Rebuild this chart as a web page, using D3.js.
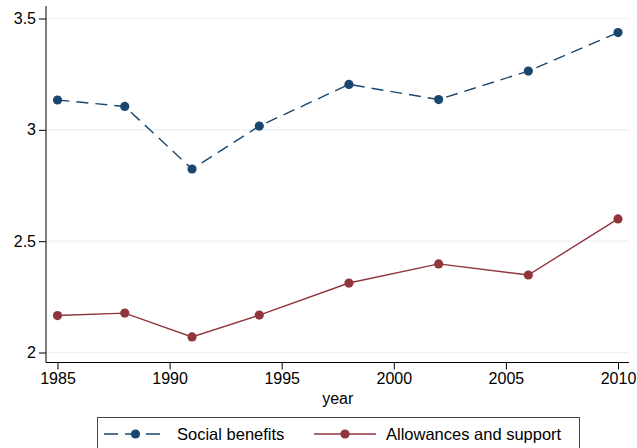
<!DOCTYPE html>
<html><head><meta charset="utf-8">
<script src="https://cdn.jsdelivr.net/npm/d3@7"></script>
<style>body{margin:0;background:#fff}svg{display:block;font-family:"Liberation Sans",Arial,Helvetica,sans-serif}</style>
</head><body>
<svg id="c" width="637" height="448"></svg>
<script>
const years = [1985, 1988, 1991, 1994, 1998, 2002, 2006, 2010];
const socialBenefits = [3.134, 3.105, 2.824, 3.017, 3.204, 3.136, 3.264, 3.437];
const allowances = [2.166, 2.177, 2.070, 2.168, 2.312, 2.398, 2.348, 2.600];
const xTicks = [1985, 1990, 1995, 2000, 2005, 2010];
const yTicks = [2, 2.5, 3, 3.5];
const seriesNames = ["Social benefits", "Allowances and support"];

const svg = d3.select("#c");
const x = d3.scaleLinear().domain([1985, 2010]).range([57.5, 618]);
const y = d3.scaleLinear().domain([2, 3.5]).range([352.5, 18.5]);
const left = 46, bottom = 362.5, right = 629;

// gridlines
svg.append("g").selectAll("line").data(yTicks).join("line")
  .attr("x1", left).attr("x2", right)
  .attr("y1", d => y(d)).attr("y2", d => y(d))
  .attr("stroke", "#eaf2f3").attr("stroke-width", 1.2);

// y axis
const ya = svg.append("g").attr("transform", `translate(${left},0)`)
  .call(d3.axisLeft(y).tickValues(yTicks).tickFormat(d3.format("")).tickSize(7).tickPadding(3));
ya.select(".domain").attr("d", `M0,6V${bottom}`).attr("stroke", "#000");
ya.selectAll("text").attr("font-size", 16).attr("fill", "#000").attr("font-family", "Liberation Sans, Arial, sans-serif");

// x axis
const xa = svg.append("g").attr("transform", `translate(0,${bottom})`)
  .call(d3.axisBottom(x).tickValues(xTicks).tickFormat(d3.format("d")).tickSize(7).tickPadding(3));
xa.select(".domain").attr("d", `M${left},0H${right}`).attr("stroke", "#000");
xa.selectAll("text").attr("font-size", 16).attr("fill", "#000").attr("font-family", "Liberation Sans, Arial, sans-serif");

svg.append("text").attr("x", x(1997.5)).attr("y", 404).attr("text-anchor", "middle")
  .attr("font-size", 16).text("year");

const colors = ["#1a476f", "#90353b"];
const dashes = ["12,7", null];
const data = [socialBenefits, allowances];
const line = d3.line().x((d, i) => x(years[i])).y(d => y(d));

data.forEach((vals, k) => {
  svg.append("path").datum(vals).attr("d", line).attr("fill", "none")
    .attr("stroke", colors[k]).attr("stroke-width", 1.4)
    .attr("stroke-dasharray", dashes[k]);
  svg.append("g").selectAll("circle").data(vals).join("circle")
    .attr("cx", (d, i) => x(years[i])).attr("cy", d => y(d)).attr("r", 4.6)
    .attr("fill", colors[k]);
});

// legend
const lg = svg.append("g");
lg.append("rect").attr("x", 97.5).attr("y", 417.5).attr("width", 482).attr("height", 40)
  .attr("fill", "#fff").attr("stroke", "#444").attr("stroke-width", 1);
const items = [{x0: 104, x1: 167, tx: 177}, {x0: 314, x1: 376, tx: 386}];
items.forEach((it, k) => {
  lg.append("line").attr("x1", it.x0).attr("x2", it.x1).attr("y1", 434).attr("y2", 434)
    .attr("stroke", colors[k]).attr("stroke-width", 1.4)
    .attr("stroke-dasharray", k === 0 ? "14,7" : null);
  lg.append("circle").attr("cx", (it.x0 + it.x1) / 2).attr("cy", 434).attr("r", 4.6).attr("fill", colors[k]);
  lg.append("text").attr("x", it.tx).attr("y", 439.5).attr("font-size", 16.5).text(seriesNames[k]);
});
</script>
</body></html>
